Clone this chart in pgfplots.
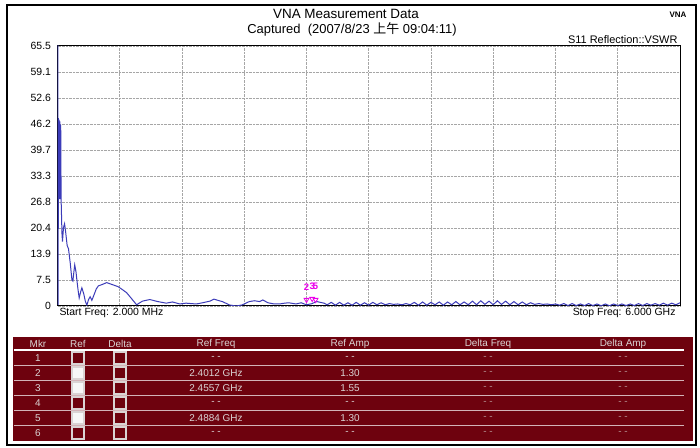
\documentclass[border=0pt]{standalone}
\usepackage{pgfplots}
\pgfplotsset{compat=1.18}
\usepackage{fontspec}
\setmainfont{Liberation Sans}
\newfontfamily\cjk{Noto Sans CJK SC}
\definecolor{trace}{RGB}{60,60,185}
\definecolor{mkr}{RGB}{235,0,235}
\definecolor{tblred}{RGB}{110,2,14}
\definecolor{tbltxt}{RGB}{218,212,212}
\definecolor{tbldim}{RGB}{180,145,145}

\begin{document}
\begin{tikzpicture}[x=1bp,y=1bp]
\path[use as bounding box] (0,0) rectangle (700,448);
\fill[white] (0,0) rectangle (700,448);
\draw[line width=2bp] (7,3) rectangle (696,443);

% titles
\node[font=\fontsize{13.5}{15}\selectfont] at (346,434) {VNA Measurement Data};
\node[font=\fontsize{13}{15}\selectfont] at (352,419) {Captured\ \ (2007/8/23 {\cjk 上午} 09:04:11)};
\node[font=\fontsize{8}{9}\selectfont\bfseries, anchor=east] at (690,433) {VNA};
\node[font=\fontsize{11}{12}\selectfont, anchor=east] at (681,408) {S11 Reflection::VSWR};

\begin{axis}[
    at={(57.5bp,142bp)}, anchor=south west,
    scale only axis, width=622.5bp, height=260bp,
    xmin=0.002, xmax=6.0, ymin=1.0, ymax=65.5,
    xtick={0.6,1.2,1.8,2.4,3.0,3.6,4.2,4.8,5.4},
    xticklabels={},
    ytick={1,7.45,13.9,20.35,26.8,33.25,39.7,46.15,52.6,59.05,65.5},
    yticklabels={0,7.5,13.9,20.4,26.8,33.3,39.7,46.2,52.6,59.1,65.5},
    major tick length=0pt,
    /pgf/number format/assume math mode=true,
    yticklabel style={font=\fontsize{10.5}{12}\selectfont, xshift=-3bp},
    grid=major,
    major grid style={densely dotted, gray!70, line width=0.6bp},
    axis line style={line width=1bp},
    clip=true,
  ]
  \addplot[trace, line width=1bp] coordinates {
    (0.006,66) (0.008,1.3) (0.011,47.6) (0.014,27.5) (0.017,47.2) (0.021,27.5)
    (0.025,46.8) (0.029,27.5) (0.033,46.0) (0.037,27.3) (0.045,19.0) (0.050,17.0)
    (0.060,20.5) (0.070,21.4) (0.080,19.5) (0.095,16.0) (0.108,15.2) (0.125,11.6)
    (0.141,7.5) (0.150,7.2) (0.160,9.5) (0.168,11.2) (0.180,9.5) (0.189,7.4)
    (0.200,5.0) (0.211,3.0) (0.225,4.5) (0.237,5.5) (0.255,4.0) (0.270,2.2)
    (0.285,1.2) (0.300,2.5) (0.316,3.3) (0.333,2.4) (0.350,3.5) (0.375,5.2)
    (0.396,6.0) (0.430,6.3) (0.476,6.8) (0.520,6.4) (0.585,5.8) (0.620,5.2)
    (0.668,4.3) (0.710,3.0) (0.764,1.3) (0.820,2.2) (0.891,2.6) (0.968,2.1)
    (1.050,1.7) (1.110,2.0) (1.180,1.5) (1.240,1.7) (1.340,1.5) (1.400,1.8)
    (1.470,2.2) (1.510,2.7) (1.560,2.3) (1.590,2.1) (1.660,1.25) (1.720,1.0)
    (1.780,1.25) (1.850,2.1) (1.900,2.3) (1.950,2.1) (1.980,2.5) (2.030,1.8)
    (2.090,1.5) (2.140,1.5) (2.190,1.7) (2.230,1.8) (2.300,1.5) (2.350,1.8)
    (2.400,1.3) (2.450,1.55) (2.500,2.1) (2.570,1.7)
    (2.60,1.3) (2.64,1.9) (2.68,1.2) (2.72,1.9) (2.76,1.2) (2.80,1.8)
    (2.84,1.2) (2.88,1.9) (2.92,1.2) (2.96,1.8) (3.00,1.2) (3.04,1.9)
    (3.08,1.3) (3.12,1.8) (3.16,1.3) (3.20,1.6) (3.24,1.4) (3.28,1.5)
    (3.32,1.3) (3.36,1.6) (3.40,1.3) (3.44,1.9) (3.48,1.2) (3.52,2.0)
    (3.56,1.2) (3.60,1.9) (3.64,1.3) (3.68,2.0) (3.72,1.2) (3.76,2.0)
    (3.80,1.3) (3.84,2.1) (3.88,1.3) (3.92,2.0) (3.96,1.3) (4.00,2.2)
    (4.04,1.3) (4.08,2.3) (4.12,1.4) (4.16,2.2) (4.20,1.3) (4.24,2.3)
    (4.28,1.4) (4.32,2.2) (4.36,1.3) (4.40,2.1) (4.44,1.3) (4.48,2.0)
    (4.52,1.3) (4.56,1.8) (4.60,1.4) (4.64,1.6) (4.68,1.4) (4.72,1.5)
    (4.76,1.3) (4.80,1.5) (4.84,1.2) (4.88,1.6) (4.92,1.1) (4.96,1.6)
    (5.00,1.1) (5.04,1.5) (5.08,1.1) (5.12,1.6) (5.16,1.1) (5.20,1.5)
    (5.24,1.05) (5.28,1.5) (5.32,1.05) (5.36,1.5) (5.40,1.1) (5.44,1.5)
    (5.48,1.1) (5.52,1.5) (5.56,1.1) (5.60,1.6) (5.64,1.1) (5.68,1.6)
    (5.72,1.2) (5.76,1.6) (5.80,1.2) (5.84,1.7) (5.88,1.2) (5.92,1.7)
    (5.96,1.3) (6.00,1.8)
  };
  % markers 2, 3, 5
  \addplot[only marks, mkr, mark=triangle, mark size=2.8bp,
    mark options={yshift=5bp, rotate=180, line width=0.8bp},
    point meta=explicit symbolic, nodes near coords,
    nodes near coords style={font=\fontsize{9.5}{10}\selectfont\bfseries,
      text=mkr, anchor=center, yshift=13bp, inner sep=0pt}]
    coordinates {(2.4012,1.30)[2] (2.4557,1.55)[3] (2.4884,1.30)[5]};
\end{axis}

\node[font=\fontsize{10.5}{12}\selectfont, anchor=west] at (56,135) {Start Freq: 2.000 MHz};
\node[font=\fontsize{10.5}{12}\selectfont, anchor=east] at (679,135) {Stop Freq: 6.000 GHz};

% marker table
\fill[tblred] (12.5,7) rectangle (693,111);
\begin{scope}[font=\fontsize{10}{12}\selectfont, text=tbltxt]
  \node at (38,104) {Mkr};
  \node at (78,104) {Ref};
  \node at (120,104) {Delta};
  \node at (216,104) {Ref Freq};
  \node at (350,104) {Ref Amp};
  \node at (488,104) {Delta Freq};
  \node at (623,104) {Delta Amp};
  \draw[white, line width=1.2bp] (14,98) -- (684,98);
  \foreach \yy in {82.5,67.5,52.5,37.5,22.5}
    \draw[white!70!tblred, line width=0.8bp] (14,\yy) -- (684,\yy);
  \foreach \r/\yy/\rf/\ra/\chk in {1/90/{- -}/{- -}/0, 2/75/{2.4012 GHz}/{1.30}/1,
      3/60/{2.4557 GHz}/{1.55}/1, 4/45/{- -}/{- -}/0, 5/30/{2.4884 GHz}/{1.30}/1,
      6/15/{- -}/{- -}/0} {
    \node at (38,\yy) {\r};
    \node at (216,\yy) {\rf};
    \node at (350,\yy) {\ra};
    \node[text=tbldim] at (488,\yy) {- -};
    \node[text=tbldim] at (623,\yy) {- -};
    \ifnum\chk=1
      \filldraw[draw=tbltxt, fill=white!94!gray, line width=1.2bp] (72,\yy-6) rectangle (84,\yy+6);
    \else
      \draw[tbltxt, line width=1.2bp] (72,\yy-6) rectangle (84,\yy+6);
    \fi
    \draw[tbltxt, line width=1.2bp] (114,\yy-6) rectangle (126,\yy+6);
  }
\end{scope}
\end{tikzpicture}
\end{document}
